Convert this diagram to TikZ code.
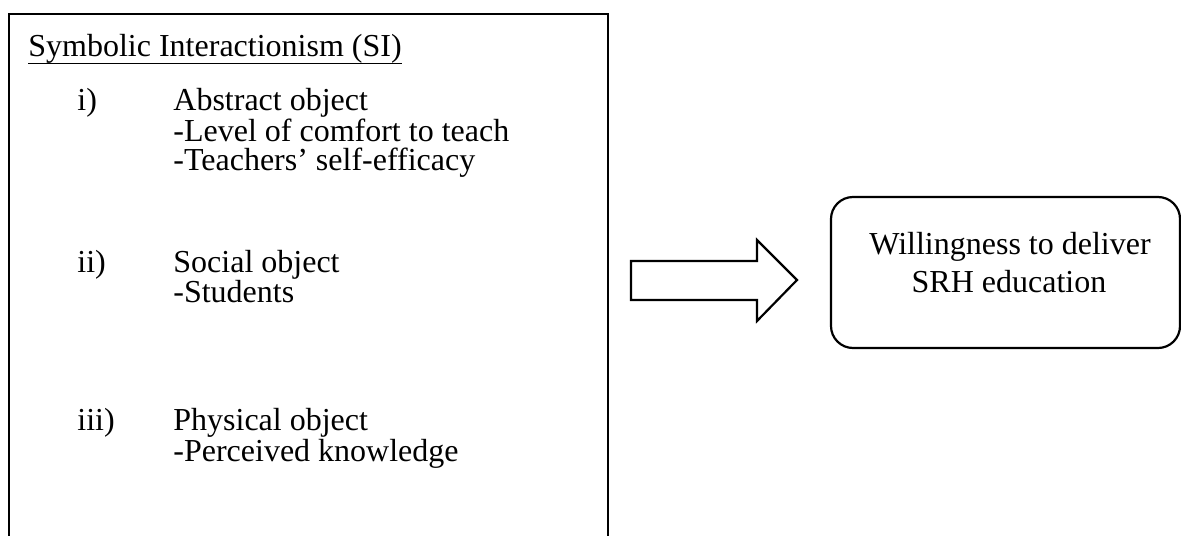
\documentclass[tikz,border=0pt]{standalone}
\usepackage{fontspec}
\setmainfont{Liberation Serif}
\begin{document}
\begin{tikzpicture}[x=0.5pt,y=-0.5pt,
  txt/.style={inner sep=0pt, anchor=base west, font=\fontsize{16}{19}\selectfont},
  txtc/.style={inner sep=0pt, anchor=base, font=\fontsize{16}{19}\selectfont},
  frame/.style={draw, line width=1.1pt, inner sep=0pt},
  blockarrow/.style={draw, line width=1.1pt, fill=white, line join=miter}]
\useasboundingbox (0,0) rectangle (1181,535);
\clip (0,0) rectangle (1181,535);
% left box
\node[frame, minimum width=299.5pt, minimum height=285pt, anchor=north west] (si) at (8,13) {};
\node[txt] (title) at (28,57) {\underline{\raisebox{0pt}[\height][1.6pt]{Symbolic Interactionism (SI)}}};
\node[txt] (n1) at (77,111) {i)};
\node[txt] (t1) at (173,111) {Abstract object};
\node[txt] (t1a) at (173,141) {-Level of comfort to teach};
\node[txt] (t1b) at (173,170) {-Teachers' self-efficacy};
\node[txt] (n2) at (77,272) {ii)};
\node[txt] (t2) at (173,272) {Social object};
\node[txt] (t2a) at (173,302) {-Students};
\node[txt] (n3) at (77,430) {iii)};
\node[txt] (t3) at (173,430) {Physical object};
\node[txt] (t3a) at (173,461) {-Perceived knowledge};
% right box
\node[frame, rounded corners=11pt, minimum width=174.5pt, minimum height=75.5pt] (will) at (1005.5,272.5) {};
\node[txtc] (w1) at (1010,254) {Willingness to deliver};
\node[txtc] (w2) at (1009,292) {SRH education};
% block arrow
\coordinate (as) at (631,280);
\coordinate (at) at (797,280);
\draw[blockarrow] ([yshift=-10pt]as) -- ([xshift=-20pt,yshift=-10pt]at) -- ([xshift=-20pt,yshift=-20.5pt]at) -- (at)
  -- ([xshift=-20pt,yshift=20pt]at) -- ([xshift=-20pt,yshift=9.5pt]at) -- ([yshift=9.5pt]as) -- cycle;
\end{tikzpicture}
\end{document}
